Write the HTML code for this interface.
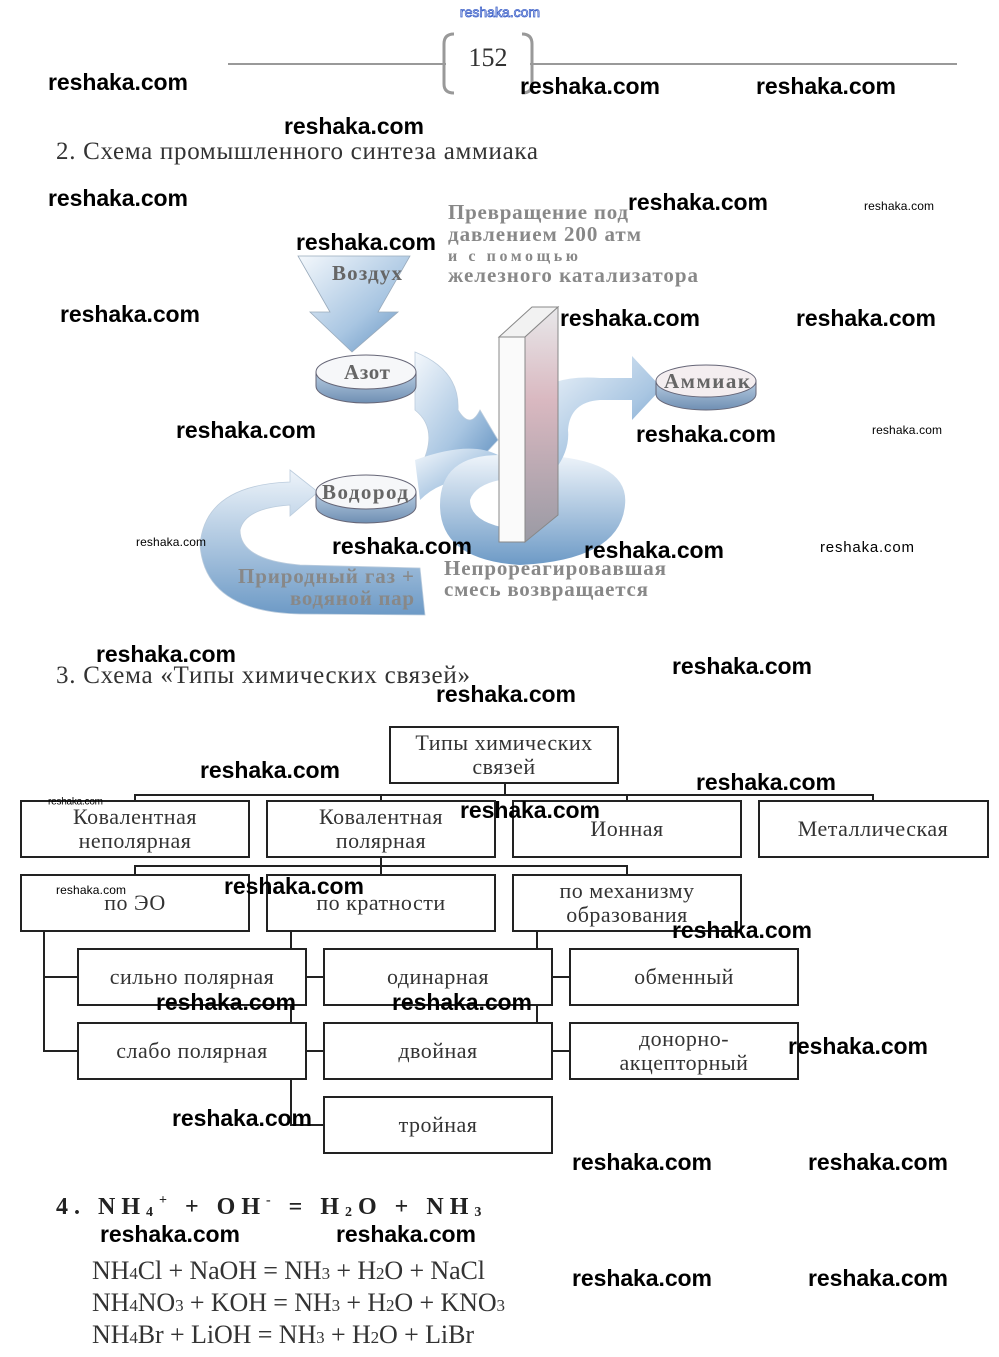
<!DOCTYPE html>
<html><head><meta charset="utf-8"><style>
html,body{margin:0;padding:0;background:#fff;}
svg{display:block;}
.s{font-family:"Liberation Serif",serif;fill:#333;}
.w{font-family:"Liberation Sans",sans-serif;font-weight:bold;fill:#000;font-size:23px;}
.ws{font-family:"Liberation Sans",sans-serif;fill:#000;font-size:12px;}
.bx{fill:#fff;stroke:#222;stroke-width:2;}
.ln{stroke:#222;stroke-width:2;fill:none;}
.bt{font-family:"Liberation Serif",serif;fill:#333;font-size:22px;text-anchor:middle;letter-spacing:0.5px;}
</style></head><body>
<svg width="999" height="1357" viewBox="0 0 999 1357" xmlns="http://www.w3.org/2000/svg">
<defs>
<linearGradient id="bl" x1="0" y1="0" x2="1" y2="1"><stop offset="0" stop-color="#f4f8fc"/><stop offset="0.6" stop-color="#a9c6e2"/><stop offset="1" stop-color="#5f8fbf"/></linearGradient>
<linearGradient id="bv" x1="0" y1="0" x2="0" y2="1"><stop offset="0" stop-color="#eef4fa"/><stop offset="1" stop-color="#6d9ac6"/></linearGradient>
<linearGradient id="dk" x1="0" y1="0" x2="0" y2="1"><stop offset="0" stop-color="#b8cde2"/><stop offset="1" stop-color="#6f8fb3"/></linearGradient>
<linearGradient id="pl" x1="0" y1="0" x2="0" y2="1"><stop offset="0" stop-color="#e8e8ea"/><stop offset="0.4" stop-color="#d9b8c0"/><stop offset="1" stop-color="#9a9aa4"/></linearGradient>
</defs>

<text x="500" y="17" text-anchor="middle" font-family="Liberation Sans,sans-serif" font-size="14" fill="#fff" stroke="#3b5fc8" stroke-width="0.8">reshaka.com</text>
<line x1="228" y1="64" x2="446" y2="64" stroke="#999" stroke-width="2"/>
<line x1="530" y1="64" x2="957" y2="64" stroke="#999" stroke-width="2"/>
<path d="M454 34 Q444 34 444 44 L444 84 Q444 93 454 93" fill="none" stroke="#999" stroke-width="3"/>
<path d="M522 34 Q532 34 532 44 L532 84 Q532 93 522 93" fill="none" stroke="#999" stroke-width="3"/>
<text x="488" y="66" text-anchor="middle" class="s" font-size="26" fill="#555">152</text>

<text x="56" y="159" class="s" font-size="25" fill="#444" textLength="482" lengthAdjust="spacing">2.  Схема промышленного синтеза аммиака</text>

<path d="M298 256 L410 256 L378 312 L398 312 L352 352 L310 312 L330 312 Z" fill="url(#bl)" stroke="#9ab" stroke-width="0.8"/>
<path d="M415 352 Q460 370 458 410 Q470 430 480 410 L498 440 L470 470 L462 450 Q440 470 420 468 Q440 430 415 410 Z" fill="url(#bl)" stroke="#bcd" stroke-width="0.8"/>
<path d="M415 460 Q470 440 498 455 L470 480 Q440 480 420 500 Z" fill="url(#bl)"/>
<path d="M440 505 Q440 455 500 455 L540 455 Q630 460 625 505 Q620 560 520 565 Q440 560 440 505 Z M470 500 Q470 525 520 530 Q560 525 555 500 Q540 478 500 480 Q475 485 470 500 Z" fill="url(#bv)" fill-rule="evenodd"/>
<path d="M540 390 Q560 375 600 378 L632 378 L632 356 L662 388 L632 420 L632 400 L600 400 Q570 402 568 430 Q570 450 555 470 L535 470 Z" fill="url(#bl)"/>
<path d="M290 470 L318 492 L290 516 L290 505 Q245 508 240 530 Q240 560 300 565 L420 568 L425 615 L300 614 Q205 612 200 545 Q205 485 290 482 Z" fill="url(#bv)" stroke="#bcd" stroke-width="0.8"/>
<polygon points="499,337 525,337 558,307 532,307" fill="#f2f2f2" stroke="#888" stroke-width="1"/>
<polygon points="525,337 558,307 558,515 525,542" fill="url(#pl)" stroke="#888" stroke-width="1"/>
<rect x="499" y="337" width="26" height="205" fill="#fafafa" stroke="#888" stroke-width="1"/>
<g>
<path d="M316 372 L316 386 A50 17 0 0 0 416 386 L416 372 Z" fill="url(#dk)" stroke="#667" stroke-width="1"/>
<ellipse cx="366" cy="372" rx="50" ry="17" fill="#f6f7f9" stroke="#667" stroke-width="1"/>
</g>
<g>
<path d="M316 492 L316 506 A50 17 0 0 0 416 506 L416 492 Z" fill="url(#dk)" stroke="#667" stroke-width="1"/>
<ellipse cx="366" cy="492" rx="50" ry="17" fill="#f6f7f9" stroke="#667" stroke-width="1"/>
</g>
<g>
<path d="M656 381 L656 394 A50 16 0 0 0 756 394 L756 381 Z" fill="url(#dk)" stroke="#667" stroke-width="1"/>
<ellipse cx="706" cy="381" rx="50" ry="16" fill="#f4eef0" stroke="#667" stroke-width="1"/>
</g>
<g class="s" font-size="21" fill="#666" font-weight="bold" lengthAdjust="spacing">
<text x="332" y="280" textLength="70" fill="#666">Воздух</text>
<text x="344" y="379" textLength="46" fill="#666">Азот</text>
<text x="322" y="499" textLength="86" fill="#666">Водород</text>
<text x="664" y="388" textLength="86" fill="#666">Аммиак</text>
<text x="448" y="219" textLength="180" fill="#888">Превращение под</text>
<text x="448" y="241" textLength="193" fill="#888">давлением 200 атм</text>
<text x="448" y="261" textLength="130" font-size="16" fill="#888">и с помощью</text>
<text x="448" y="282" textLength="250" fill="#888">железного катализатора</text>
<text x="444" y="575" textLength="222" fill="#888">Непрореагировавшая</text>
<text x="444" y="596" textLength="204" fill="#888">смесь возвращается</text>
<text x="238" y="583" textLength="176" fill="#888">Природный газ +</text>
<text x="290" y="605" textLength="124" fill="#888">водяной пар</text>
</g>

<text x="56" y="683" class="s" font-size="25" fill="#444" textLength="414" lengthAdjust="spacing">3.  Схема «Типы химических связей»</text>

<path class="ln" d="M505 783 V795 M135 801 V795 H873 V801 M381 795 V801 M627 795 V801"/>
<path class="ln" d="M381 857 V866 M135 875 V866 H627 V875 M381 866 V875"/>
<path class="ln" d="M44 931 V1051 H78 M44 977 H78"/>
<path class="ln" d="M291 931 V1125 H324 M306 977 H324 M306 1051 H324"/>
<path class="ln" d="M537 931 V1051 H570 M552 977 H570"/>
<rect class="bx" x="390" y="727" width="228" height="56"/>
<text class="bt" x="504" y="750">Типы химических</text><text class="bt" x="504" y="774">связей</text>
<rect class="bx" x="21" y="801" width="228" height="56"/>
<text class="bt" x="135" y="824">Ковалентная</text><text class="bt" x="135" y="848">неполярная</text>
<rect class="bx" x="267" y="801" width="228" height="56"/>
<text class="bt" x="381" y="824">Ковалентная</text><text class="bt" x="381" y="848">полярная</text>
<rect class="bx" x="513" y="801" width="228" height="56"/>
<text class="bt" x="627" y="836">Ионная</text>
<rect class="bx" x="759" y="801" width="229" height="56"/>
<text class="bt" x="873" y="836">Металлическая</text>
<rect class="bx" x="21" y="875" width="228" height="56"/>
<text class="bt" x="135" y="910">по ЭО</text>
<rect class="bx" x="267" y="875" width="228" height="56"/>
<text class="bt" x="381" y="910">по кратности</text>
<rect class="bx" x="513" y="875" width="228" height="56"/>
<text class="bt" x="627" y="898">по механизму</text><text class="bt" x="627" y="922">образования</text>
<rect class="bx" x="78" y="949" width="228" height="56"/>
<text class="bt" x="192" y="984">сильно полярная</text>
<rect class="bx" x="324" y="949" width="228" height="56"/>
<text class="bt" x="438" y="984">одинарная</text>
<rect class="bx" x="570" y="949" width="228" height="56"/>
<text class="bt" x="684" y="984">обменный</text>
<rect class="bx" x="78" y="1023" width="228" height="56"/>
<text class="bt" x="192" y="1058">слабо полярная</text>
<rect class="bx" x="324" y="1023" width="228" height="56"/>
<text class="bt" x="438" y="1058">двойная</text>
<rect class="bx" x="570" y="1023" width="228" height="56"/>
<text class="bt" x="684" y="1046">донорно-</text><text class="bt" x="684" y="1070">акцепторный</text>
<rect class="bx" x="324" y="1097" width="228" height="56"/>
<text class="bt" x="438" y="1132">тройная</text>

<text x="56" y="1214" font-family="Liberation Serif,serif" font-weight="bold" font-size="24" fill="#222" letter-spacing="6">4. NH<tspan font-size="14" dy="2">4</tspan><tspan font-size="14" dy="-12">+</tspan><tspan dy="10"> + OH</tspan><tspan font-size="14" dy="-10">-</tspan><tspan dy="10"> = H</tspan><tspan font-size="14" dy="2">2</tspan><tspan dy="-2">O + NH</tspan><tspan font-size="14" dy="2">3</tspan></text>
<g font-family="Liberation Serif,serif" font-size="26" fill="#333" lengthAdjust="spacing">
<text x="92" y="1279" textLength="393">NH<tspan font-size="17">4</tspan>Cl + NaOH = NH<tspan font-size="17">3</tspan> + H<tspan font-size="17">2</tspan>O + NaCl</text>
<text x="92" y="1311" textLength="413">NH<tspan font-size="17">4</tspan>NO<tspan font-size="17">3</tspan> + KOH = NH<tspan font-size="17">3</tspan> + H<tspan font-size="17">2</tspan>O + KNO<tspan font-size="17">3</tspan></text>
<text x="92" y="1343" textLength="382">NH<tspan font-size="17">4</tspan>Br + LiOH = NH<tspan font-size="17">3</tspan> + H<tspan font-size="17">2</tspan>O + LiBr</text>
</g>

<g class="w" dominant-baseline="middle">
<text x="48" y="84" textLength="140">reshaka.com</text>
<text x="520" y="88" textLength="140">reshaka.com</text>
<text x="756" y="88" textLength="140">reshaka.com</text>
<text x="284" y="128" textLength="140">reshaka.com</text>
<text x="48" y="200" textLength="140">reshaka.com</text>
<text x="628" y="204" textLength="140">reshaka.com</text>
<text x="296" y="244" textLength="140">reshaka.com</text>
<text x="60" y="316" textLength="140">reshaka.com</text>
<text x="560" y="320" textLength="140">reshaka.com</text>
<text x="796" y="320" textLength="140">reshaka.com</text>
<text x="176" y="432" textLength="140">reshaka.com</text>
<text x="636" y="436" textLength="140">reshaka.com</text>
<text x="332" y="548" textLength="140">reshaka.com</text>
<text x="584" y="552" textLength="140">reshaka.com</text>
<text x="96" y="656" textLength="140">reshaka.com</text>
<text x="672" y="668" textLength="140">reshaka.com</text>
<text x="436" y="696" textLength="140">reshaka.com</text>
<text x="200" y="772" textLength="140">reshaka.com</text>
<text x="696" y="784" textLength="140">reshaka.com</text>
<text x="460" y="812" textLength="140">reshaka.com</text>
<text x="224" y="888" textLength="140">reshaka.com</text>
<text x="672" y="932" textLength="140">reshaka.com</text>
<text x="156" y="1004" textLength="140">reshaka.com</text>
<text x="392" y="1004" textLength="140">reshaka.com</text>
<text x="788" y="1048" textLength="140">reshaka.com</text>
<text x="172" y="1120" textLength="140">reshaka.com</text>
<text x="572" y="1164" textLength="140">reshaka.com</text>
<text x="808" y="1164" textLength="140">reshaka.com</text>
<text x="100" y="1236" textLength="140">reshaka.com</text>
<text x="336" y="1236" textLength="140">reshaka.com</text>
<text x="572" y="1280" textLength="140">reshaka.com</text>
<text x="808" y="1280" textLength="140">reshaka.com</text>
</g>
<g class="ws" dominant-baseline="middle">
<text x="864" y="207" textLength="70">reshaka.com</text>
<text x="872" y="431" textLength="70">reshaka.com</text>
<text x="136" y="543" textLength="70">reshaka.com</text>
<text x="820" y="548" textLength="94" font-size="15">reshaka.com</text>
<text x="48" y="802" textLength="55" font-size="10">reshaka.com</text>
<text x="56" y="891" textLength="70">reshaka.com</text>
</g>
</svg>
</body></html>
